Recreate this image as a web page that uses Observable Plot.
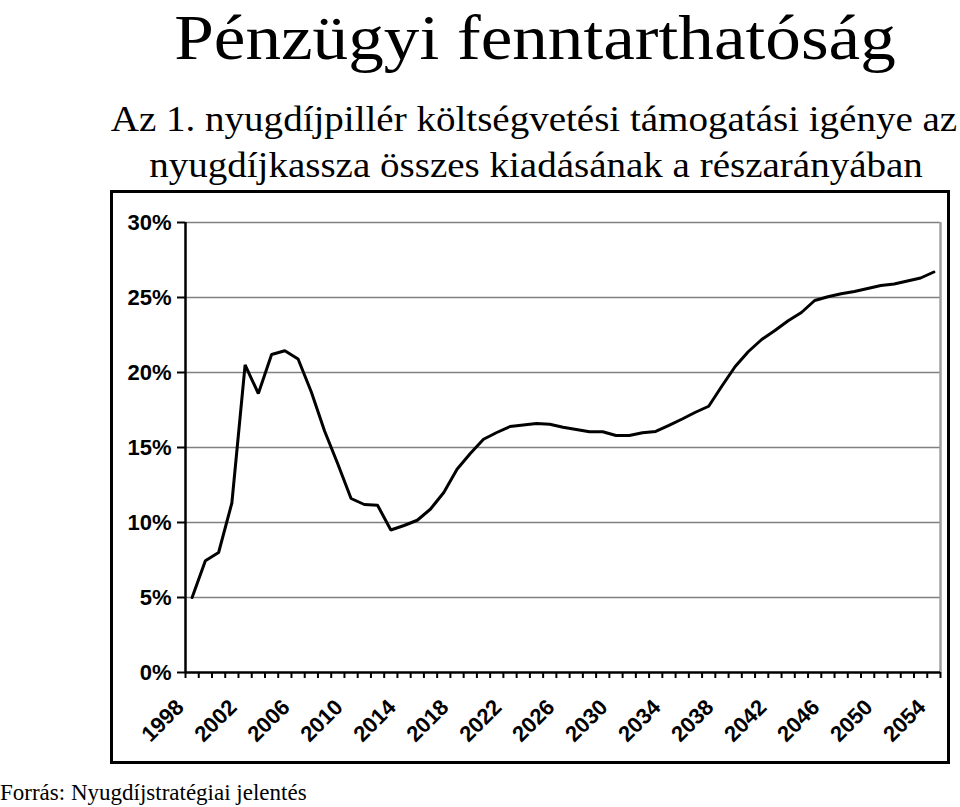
<!DOCTYPE html>
<html>
<head>
<meta charset="utf-8">
<script src="https://cdn.jsdelivr.net/npm/d3@7"></script>
<script src="https://cdn.jsdelivr.net/npm/@observablehq/plot@0.6"></script>
<style>
  html, body { margin: 0; padding: 0; background: #fff; }
  #page { position: relative; width: 960px; height: 807px; overflow: hidden; }
  .serif { font-family: "Liberation Serif", "Times New Roman", serif; color: #000; white-space: nowrap; position: absolute; }
  #title { left: 535px; top: 8px; font-size: 63px; line-height: 60px; transform: translateX(-50%) scaleX(1.13); }
  #sub1 { left: 534px; top: 100px; font-size: 35px; line-height: 40px; transform: translateX(-50%) scaleX(1.115); }
  #sub2 { left: 536px; top: 146px; font-size: 35px; line-height: 40px; transform: translateX(-50%) scaleX(1.115); }
  #caption { left: 0px; top: 781px; font-size: 23px; line-height: 24px; }
  #frame { position: absolute; left: 110px; top: 190px; width: 834px; height: 568px; border: 3px solid #000; pointer-events: none; }
  #chart { position: absolute; left: 0; top: 190px; }
</style>
</head>
<body>
<div id="page">
  <div id="title" class="serif">Pénzügyi fenntarthatóság</div>
  <div id="sub1" class="serif">Az 1. nyugdíjpillér költségvetési támogatási igénye az</div>
  <div id="sub2" class="serif">nyugdíjkassza összes kiadásának a részarányában</div>
  <div id="chart"></div>
  <div id="frame"></div>
  <div id="caption" class="serif">Forrás: Nyugdíjstratégiai jelentés</div>
</div>
<script>
const years = [1998,1999,2000,2001,2002,2003,2004,2005,2006,2007,2008,2009,2010,2011,2012,2013,2014,2015,2016,2017,2018,2019,2020,2021,2022,2023,2024,2025,2026,2027,2028,2029,2030,2031,2032,2033,2034,2035,2036,2037,2038,2039,2040,2041,2042,2043,2044,2045,2046,2047,2048,2049,2050,2051,2052,2053,2054];
const shares = [5.0,7.45,8.0,11.3,20.5,18.6,21.2,21.45,20.9,18.7,16.1,13.9,11.6,11.2,11.15,9.5,9.8,10.15,10.9,12.0,13.55,14.6,15.55,16.0,16.4,16.5,16.6,16.55,16.35,16.2,16.05,16.05,15.8,15.8,15.98,16.07,16.47,16.9,17.35,17.75,19.1,20.4,21.4,22.2,22.8,23.45,24.0,24.8,25.05,25.25,25.4,25.6,25.8,25.9,26.1,26.3,26.7];
const labelYears = [1998,2002,2006,2010,2014,2018,2022,2026,2030,2034,2038,2042,2046,2050,2054];
const yTicks = [0,5,10,15,20,25,30];

const data = years.map((y, i) => ({year: y, value: shares[i]}));
const first = years[0] - 0.5, last = years[years.length - 1] + 0.5;
const boundaries = years.map(y => y - 0.5).concat([last]);

const chart = Plot.plot({
  width: 960,
  height: 574,
  marginLeft: 185,
  marginRight: 20,
  marginTop: 32,
  marginBottom: 92,
  style: {fontFamily: "'Liberation Sans', Arial, Helvetica, sans-serif", fontSize: "22px", fontWeight: "bold", color: "#000", background: "transparent"},
  x: {domain: [first, last]},
  y: {domain: [0, 30]},
  marks: [
    Plot.ruleY(yTicks.filter(d => d > 0), {stroke: "#808080", strokeWidth: 1.5}),
    Plot.ruleX([last], {stroke: "#a0a0a0", strokeWidth: 2.5}),
    Plot.axisY({ticks: yTicks, tickFormat: d => d + "%", tickSize: 8, tickPadding: 6, strokeWidth: 2, label: null}),
    Plot.axisX({ticks: boundaries, tickFormat: () => "", tickSize: 6, strokeWidth: 2, label: null}),
    Plot.axisX({ticks: labelYears, tickFormat: d => String(d), tickSize: 0, tickPadding: 31, tickRotate: -45, dx: -12, fontSize: 22, label: null}),
    Plot.ruleY([0], {stroke: "#000", strokeWidth: 2.5}),
    Plot.ruleX([first], {stroke: "#000", strokeWidth: 2.5}),
    Plot.line(data, {x: "year", y: "value", stroke: "#000", strokeWidth: 3, strokeLinejoin: "miter"})
  ]
});
document.getElementById("chart").appendChild(chart);
</script>
</body>
</html>
